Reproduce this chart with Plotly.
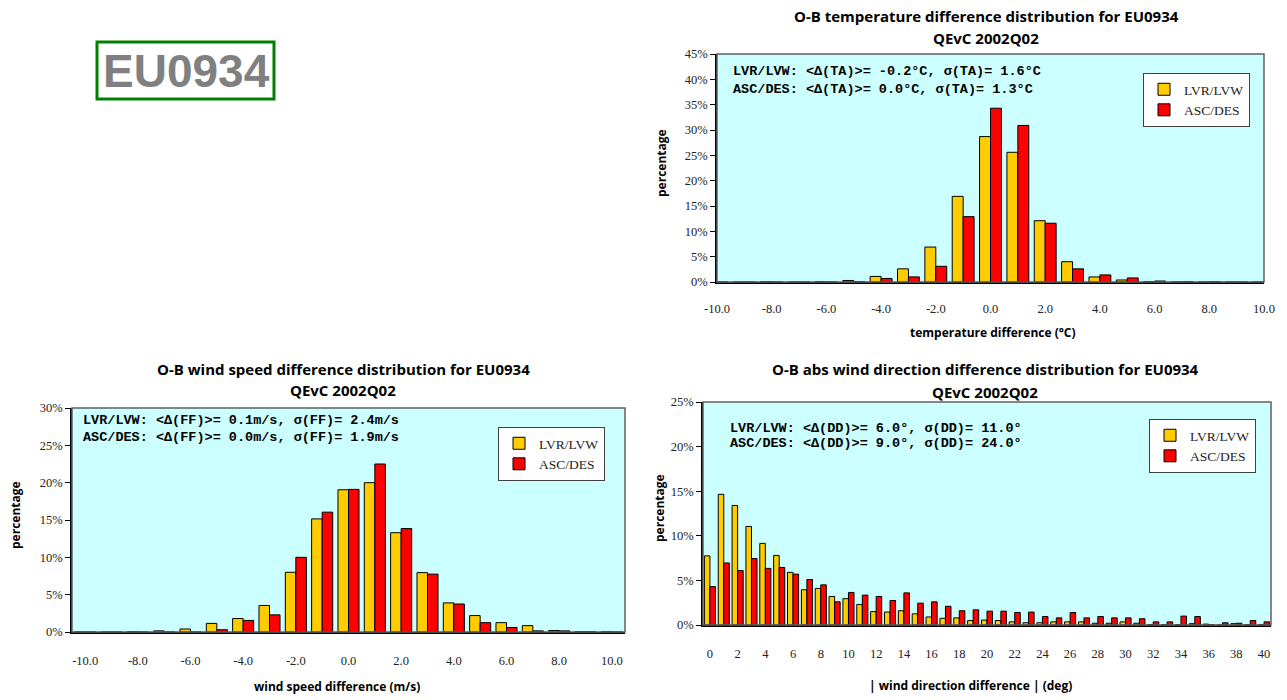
import plotly.graph_objects as go

# ---------------- data ----------------
series_names = ["LVR/LVW", "ASC/DES"]

# O-B temperature difference (°C bins), percentage of observations
temp_bins = list(range(-10, 11))
temp_lvr = [0, 0, 0.1, 0, 0.1, 0.3, 1.1, 2.6, 6.9, 16.9, 28.7, 25.6, 12.1, 4.0, 1.0, 0.4, 0.1, 0, 0, 0, 0]
temp_asc = [0, 0, 0, 0, 0, 0.1, 0.7, 1.0, 3.1, 12.9, 34.3, 30.9, 11.6, 2.6, 1.4, 0.8, 0.2, 0.1, 0.1, 0, 0]

# O-B wind speed difference (m/s bins)
ff_bins = list(range(-10, 11))
ff_lvr = [0, 0, 0.05, 0.15, 0.4, 1.15, 1.8, 3.55, 8.0, 15.15, 19.05, 20.0, 13.3, 7.95, 3.9, 2.2, 1.25, 0.85, 0.2, 0.05, 0.05]
ff_asc = [0, 0, 0, 0, 0, 0.3, 1.55, 2.3, 10.0, 16.05, 19.1, 22.5, 13.85, 7.75, 3.75, 1.25, 0.6, 0.15, 0.15, 0.05, 0]

# O-B absolute wind direction difference (deg bins)
dd_bins = list(range(0, 41))
dd_lvr = [7.75, 14.65, 13.4, 11.05, 9.15, 7.8, 5.9, 3.95, 4.1, 3.2, 2.95, 2.3, 1.5, 1.45, 1.6, 1.25, 0.9, 0.75,
          0.8, 0.5, 0.55, 0.5, 0.35, 0.25, 0.25, 0.35, 0.35, 0.35, 0.2, 0.2, 0.35, 0.2, 0.05, 0.05, 0.05, 0.15,
          0.1, 0, 0.15, 0.05, 0.05]
dd_asc = [4.3, 6.95, 6.1, 7.45, 6.35, 6.45, 5.7, 5.1, 4.5, 2.6, 3.65, 3.35, 3.2, 2.75, 3.6, 2.45, 2.6, 2.1,
          1.6, 1.7, 1.55, 1.55, 1.4, 1.45, 0.95, 0.8, 1.4, 0.8, 0.95, 0.8, 0.8, 0.7, 0.35, 0.35, 1.0, 0.95,
          0.05, 0.25, 0.2, 0.5, 0.35]

temp_ticks = [-10, -8, -6, -4, -2, 0, 2, 4, 6, 8, 10]
temp_ticktext = ["-10.0", "-8.0", "-6.0", "-4.0", "-2.0", "0.0", "2.0", "4.0", "6.0", "8.0", "10.0"]
ff_ticks = temp_ticks
ff_ticktext = temp_ticktext
dd_ticks = list(range(0, 41, 2))
dd_ticktext = [str(v) for v in dd_ticks]

stats_temp = ["LVR/LVW: <Δ(TA)>= -0.2°C, σ(TA)= 1.6°C", "ASC/DES: <Δ(TA)>= 0.0°C, σ(TA)= 1.3°C"]
stats_ff = ["LVR/LVW: <Δ(FF)>= 0.1m/s, σ(FF)= 2.4m/s", "ASC/DES: <Δ(FF)>= 0.0m/s, σ(FF)= 1.9m/s"]
stats_dd = ["LVR/LVW: <Δ(DD)>= 6.0°, σ(DD)= 11.0°", "ASC/DES: <Δ(DD)>= 9.0°, σ(DD)= 24.0°"]

# ---------------- styling ----------------
W, H = 1287, 700
YELLOW = "#FFCC00"
RED = "#FF0000"
BG = "#CCFFFF"
TITLE_FONT = dict(family="Open Sans", size=15, color="black")
AXT_FONT = dict(family="Open Sans", size=12, color="black")
TICK_FONT = dict(family="Liberation Serif", size=12.5, color="#222222")
MONO_FONT = dict(family="Liberation Mono", size=13.5, color="black")
LEG_FONT = dict(family="Liberation Serif", size=13.5, color="#222222")


def px_x(p):
    return p / W


def px_y(p):
    return 1 - p / H


# plot areas in pixel coordinates: (left, top, right, bottom)
panels = {
    "temp": (717, 54, 1264, 282),
    "ff": (72, 408, 625, 632),
    "dd": (703, 402, 1271, 625),
}

fig = go.Figure()


def add_pair(x, y_lvr, y_asc, xa, ya, legend):
    for name, vals, col in zip(series_names, [y_lvr, y_asc], [YELLOW, RED]):
        fig.add_trace(go.Bar(
            x=x, y=vals, name=name, xaxis=xa, yaxis=ya, legend=legend,
            marker=dict(color=col, line=dict(color="black", width=1)),
        ))


add_pair(temp_bins, temp_lvr, temp_asc, "x", "y", "legend")
add_pair(ff_bins, ff_lvr, ff_asc, "x2", "y2", "legend2")
add_pair(dd_bins, dd_lvr, dd_asc, "x3", "y3", "legend3")

axis_common_x = dict(showgrid=False, zeroline=False, showline=True, linecolor="black", linewidth=1.5,
                     ticks="", tickfont=TICK_FONT, automargin=False, tickmode="array")
axis_common_y = dict(showgrid=False, zeroline=False, showline=True, linecolor="black", linewidth=1.5,
                     ticks="outside", ticklen=5, tickcolor="black", tickfont=TICK_FONT,
                     ticksuffix="%", dtick=5, tick0=0, automargin=False)


def dom(key):
    l, t, r, b = panels[key]
    return [px_x(l), px_x(r)], [px_y(b), px_y(t)]


dx1, dy1 = dom("temp")
dx2, dy2 = dom("ff")
dx3, dy3 = dom("dd")

fig.update_layout(
    width=W, height=H,
    margin=dict(l=0, r=0, t=0, b=0),
    paper_bgcolor="white", plot_bgcolor=BG,
    barmode="group", bargap=0.2, bargroupgap=0,
    xaxis=dict(domain=dx1, anchor="y", range=[-10, 10], tickvals=temp_ticks, ticktext=temp_ticktext,
               ticklabelstandoff=14, **axis_common_x),
    yaxis=dict(domain=dy1, anchor="x", range=[0, 45], **axis_common_y),
    xaxis2=dict(domain=dx2, anchor="y2", range=[-10.5, 10.5], tickvals=ff_ticks, ticktext=ff_ticktext,
                ticklabelstandoff=16, **axis_common_x),
    yaxis2=dict(domain=dy2, anchor="x2", range=[0, 30], **axis_common_y),
    xaxis3=dict(domain=dx3, anchor="y3", range=[-0.5, 40.5], tickvals=dd_ticks, ticktext=dd_ticktext,
                ticklabelstandoff=16, **axis_common_x),
    yaxis3=dict(domain=dy3, anchor="x3", range=[0, 25], **axis_common_y),
    showlegend=True,
)

legend_style = dict(bgcolor="white", bordercolor="#404040", borderwidth=1, font=LEG_FONT,
                    xanchor="left", yanchor="top", itemwidth=30, tracegroupgap=0)
fig.update_layout(
    legend=dict(x=px_x(1143), y=px_y(73), **legend_style),
    legend2=dict(x=px_x(498), y=px_y(427), **legend_style),
    legend3=dict(x=px_x(1149), y=px_y(419), **legend_style),
)

# plot-area frames
for key in panels:
    l, t, r, b = panels[key]
    fig.add_shape(type="rect", xref="paper", yref="paper",
                  x0=px_x(l), x1=px_x(r), y0=px_y(b), y1=px_y(t),
                  line=dict(color="#606060", width=1.5), layer="above")

ann = []


def text(x, y, s, font, xanchor="center", angle=0):
    ann.append(dict(x=px_x(x), y=px_y(y), xref="paper", yref="paper", text=s, showarrow=False,
                    font=font, xanchor=xanchor, yanchor="middle", textangle=angle))


# chart titles
text(986, 16, "<b>O-B temperature difference distribution for EU0934</b>", TITLE_FONT)
text(986, 38, "<b>QEvC 2002Q02</b>", TITLE_FONT)
text(343, 369, "<b>O-B wind speed difference distribution for EU0934</b>", TITLE_FONT)
text(343, 390, "<b>QEvC 2002Q02</b>", TITLE_FONT)
text(985, 369, "<b>O-B abs wind direction difference distribution for EU0934</b>", TITLE_FONT)
text(985, 392, "<b>QEvC 2002Q02</b>", TITLE_FONT)

# axis titles
text(993, 332, "<b>temperature difference (°C)</b>", AXT_FONT)
text(337, 686, "<b>wind speed difference (m/s)</b>", AXT_FONT)
text(970, 685, "<b>| wind direction difference | (deg)</b>", AXT_FONT)
text(661, 163, "<b>percentage</b>", AXT_FONT, angle=-90)
text(15, 515, "<b>percentage</b>", AXT_FONT, angle=-90)
text(659, 508, "<b>percentage</b>", AXT_FONT, angle=-90)

# statistics text
text(731, 71, "<b>%s</b>" % stats_temp[0], MONO_FONT, xanchor="left")
text(731, 90, "<b>%s</b>" % stats_temp[1], MONO_FONT, xanchor="left")
text(81, 420, "<b>%s</b>" % stats_ff[0], MONO_FONT, xanchor="left")
text(81, 437, "<b>%s</b>" % stats_ff[1], MONO_FONT, xanchor="left")
text(728, 428, "<b>%s</b>" % stats_dd[0], MONO_FONT, xanchor="left")
text(728, 443, "<b>%s</b>" % stats_dd[1], MONO_FONT, xanchor="left")

# station badge
fig.add_shape(type="rect", xref="paper", yref="paper",
              x0=px_x(97), x1=px_x(274), y0=px_y(99), y1=px_y(42),
              line=dict(color="#008000", width=3), fillcolor="white")
text(186, 71, "<b>EU0934</b>", dict(family="Liberation Sans", size=46, color="#808080"))

fig.update_layout(annotations=ann)

fig.write_html("out.html")
